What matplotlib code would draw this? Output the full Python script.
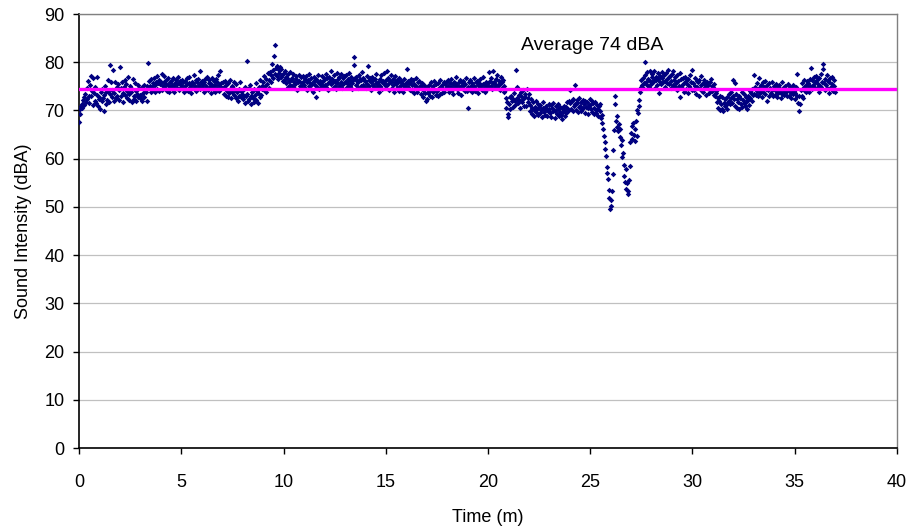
import numpy as np
import matplotlib
matplotlib.use("Agg")
import matplotlib.pyplot as plt

plt.rcParams['font.family'] = ['Liberation Sans', 'DejaVu Sans']

# Sound level meter log: one reading every 2 seconds, grouped by minute (dBA)
sample_interval_min = 2 / 60

minute_00 = [67.6, 69.2, 70.3, 70.9, 71.4, 70.6, 72.1, 71.2, 72.8, 73.5, 71.8, 74.6, 72.4, 76.2, 73.1,
             71.5, 75.3, 77.1, 72.9, 74.0, 71.2, 76.8, 73.6, 72.0, 74.9, 71.6, 77.0, 73.3, 70.9, 72.7]
minute_01 = [72.3, 70.4, 73.8, 71.9, 74.5, 72.6, 69.8, 73.2, 75.1, 71.3, 73.9, 72.2, 76.4, 74.0, 71.7,
             79.4, 73.5, 75.8, 72.8, 74.3, 78.3, 71.9, 73.6, 76.0, 72.5, 74.8, 73.0, 75.5, 72.1, 74.2]
minute_02 = [79.1, 74.6, 72.9, 75.8, 73.7, 71.8, 74.9, 76.3, 73.2, 75.4, 72.6, 74.1, 76.9, 73.5, 72.2,
             75.0, 73.8, 71.7, 74.4, 76.5, 73.0, 72.4, 75.6, 74.0, 71.9, 73.4, 75.2, 72.8, 74.7, 73.3]
minute_03 = [73.1, 72.4, 74.8, 72.0, 73.6, 75.2, 72.7, 74.3, 73.9, 71.9, 75.1, 79.8, 74.6, 76.2, 75.0,
             73.8, 76.5, 74.9, 75.7, 74.2, 76.8, 75.3, 73.9, 75.9, 77.1, 74.5, 75.6, 76.3, 74.1, 75.4]
minute_04 = [75.8, 74.3, 77.6, 75.1, 76.0, 77.2, 74.6, 75.5, 76.4, 74.0, 75.2, 76.7, 73.8, 75.9, 74.8,
             76.1, 75.3, 74.4, 76.8, 75.0, 73.9, 75.7, 76.3, 74.7, 75.4, 77.0, 74.2, 75.6, 76.2, 74.9]
minute_05 = [75.2, 76.4, 74.5, 75.9, 73.9, 76.2, 75.0, 74.3, 76.8, 75.5, 74.1, 75.7, 76.9, 74.8, 75.3,
             73.7, 76.0, 75.6, 74.6, 77.3, 75.1, 74.0, 76.3, 75.8, 74.7, 76.5, 75.2, 78.1, 74.4, 75.9]
minute_06 = [74.8, 76.1, 75.4, 73.8, 75.9, 76.6, 74.5, 75.1, 77.0, 74.2, 75.7, 76.3, 74.9, 73.6, 75.5,
             76.8, 75.0, 74.4, 76.2, 75.3, 73.9, 76.5, 75.8, 74.6, 77.4, 75.2, 74.1, 78.2, 75.6, 74.7]
minute_07 = [74.6, 75.9, 73.5, 74.9, 76.2, 73.0, 75.3, 74.1, 72.8, 75.6, 73.7, 76.4, 74.4, 72.5, 75.0,
             73.9, 74.7, 76.0, 73.2, 74.3, 72.6, 75.4, 73.8, 71.9, 74.5, 73.1, 75.8, 72.7, 74.0, 73.4]
minute_08 = [72.4, 74.2, 73.1, 71.6, 74.8, 72.9, 80.2, 73.5, 71.9, 74.6, 72.3, 75.2, 73.0, 71.4, 73.8,
             72.6, 74.4, 71.8, 73.3, 75.6, 72.1, 74.0, 73.6, 71.5, 74.9, 72.8, 76.3, 73.2, 74.5, 75.1]
minute_09 = [75.8, 74.3, 77.2, 75.0, 76.6, 73.9, 75.5, 77.8, 74.7, 76.4, 78.0, 75.9, 77.3, 79.6, 76.8,
             78.4, 81.2, 77.5, 83.6, 78.9, 77.1, 79.2, 76.5, 78.3, 77.7, 79.0, 76.9, 78.6, 77.4, 76.2]
minute_10 = [77.8, 76.3, 78.1, 75.6, 77.0, 76.7, 74.9, 77.5, 76.1, 75.2, 77.9, 76.4, 75.0, 76.8, 77.6,
             74.6, 76.0, 75.5, 77.2, 76.5, 74.3, 75.8, 77.4, 76.2, 75.1, 76.9, 74.8, 75.7, 77.1, 76.0]
minute_11 = [75.3, 76.6, 74.7, 77.2, 75.9, 74.2, 76.3, 75.0, 77.6, 75.7, 74.5, 76.8, 75.4, 73.9, 76.1,
             77.0, 75.2, 72.7, 76.5, 74.9, 75.8, 77.4, 74.4, 76.2, 75.5, 74.8, 77.1, 76.0, 75.1, 76.7]
minute_12 = [76.4, 75.2, 77.5, 74.9, 76.8, 75.6, 74.3, 77.0, 76.1, 75.4, 78.1, 76.6, 74.7, 75.9, 77.3,
             75.0, 76.2, 74.5, 77.8, 75.7, 76.5, 74.8, 76.9, 75.3, 77.6, 76.0, 74.6, 76.7, 75.5, 77.2]
minute_13 = [75.8, 77.3, 76.0, 74.9, 76.6, 75.4, 77.7, 76.2, 75.1, 76.9, 75.6, 74.4, 76.3, 81.1, 79.5,
             76.8, 75.3, 77.0, 76.1, 74.7, 75.9, 77.4, 76.5, 75.0, 76.4, 78.0, 75.2, 76.7, 74.8, 76.2]
minute_14 = [76.1, 74.6, 77.2, 75.5, 79.3, 76.4, 75.0, 76.8, 74.3, 75.9, 77.0, 75.2, 76.3, 74.8, 76.6,
             75.7, 77.5, 74.9, 76.0, 75.4, 73.8, 76.5, 75.1, 77.3, 75.8, 74.5, 76.2, 75.6, 77.8, 75.3]
minute_15 = [76.4, 75.0, 78.2, 76.7, 75.5, 74.2, 76.1, 77.3, 75.8, 74.7, 76.5, 75.2, 73.9, 76.0, 77.1,
             75.4, 74.6, 76.3, 75.9, 74.1, 76.8, 75.1, 74.5, 76.2, 75.6, 73.8, 75.3, 76.6, 74.9, 75.7]
minute_16 = [75.4, 78.6, 74.8, 76.1, 75.7, 74.3, 75.9, 76.6, 74.0, 75.2, 76.4, 73.7, 75.5, 74.6, 76.8,
             75.0, 73.9, 75.8, 74.4, 76.2, 75.1, 73.4, 74.9, 75.6, 72.8, 74.2, 75.3, 73.6, 74.7, 71.9]
minute_17 = [72.4, 74.8, 73.6, 75.3, 74.1, 73.0, 75.9, 74.5, 72.7, 75.0, 73.8, 76.2, 74.3, 73.3, 75.5,
             74.0, 72.9, 75.7, 74.6, 73.5, 76.4, 74.9, 73.7, 75.2, 74.4, 76.0, 73.9, 75.4, 74.7, 75.8]
minute_18 = [74.6, 76.3, 75.1, 73.8, 75.7, 74.9, 76.6, 74.2, 75.4, 73.5, 76.0, 74.8, 75.6, 77.0, 74.4,
             75.2, 73.7, 75.9, 74.7, 76.4, 75.0, 73.3, 75.8, 74.5, 76.1, 75.3, 74.0, 75.5, 76.8, 74.1]
minute_19 = [70.6, 74.9, 75.8, 74.2, 76.3, 75.1, 73.9, 75.6, 74.6, 76.7, 75.0, 74.0, 75.9, 74.5, 76.1,
             75.3, 73.6, 75.7, 74.8, 76.5, 75.2, 74.3, 75.5, 76.9, 74.7, 75.4, 73.8, 76.0, 75.1, 74.4]
minute_20 = [75.6, 77.9, 74.8, 76.2, 75.1, 76.8, 74.5, 75.7, 78.1, 76.0, 74.9, 75.4, 76.5, 77.3, 75.2,
             74.6, 76.1, 75.5, 74.2, 77.0, 75.8, 74.7, 76.3, 75.0, 73.9, 74.3, 72.5, 70.6, 71.8, 68.7]
minute_21 = [69.2, 71.4, 72.8, 70.3, 73.1, 71.9, 72.4, 70.8, 73.6, 72.0, 71.2, 78.3, 74.9, 72.6, 71.5,
             73.3, 72.1, 70.6, 73.8, 72.9, 71.7, 74.2, 72.3, 71.0, 73.4, 72.7, 70.9, 74.5, 71.8, 72.5]
minute_22 = [73.5, 71.2, 69.8, 72.4, 70.5, 69.2, 71.7, 70.1, 68.9, 70.8, 72.0, 69.6, 70.3, 71.4, 69.0,
             70.7, 69.4, 71.1, 70.0, 68.7, 70.6, 71.8, 69.7, 70.2, 69.1, 71.0, 70.4, 68.8, 69.9, 71.3]
minute_23 = [70.2, 69.5, 71.1, 68.7, 70.6, 69.9, 71.6, 70.0, 68.5, 69.8, 70.9, 69.3, 71.4, 70.3, 68.9,
             69.7, 70.8, 69.1, 70.5, 68.3, 69.6, 71.0, 70.1, 68.8, 69.4, 70.7, 71.7, 69.9, 70.4, 72.0]
minute_24 = [71.6, 74.3, 70.2, 71.9, 69.8, 72.4, 70.9, 75.3, 71.3, 70.0, 72.1, 71.5, 69.6, 70.7, 72.6,
             71.0, 69.9, 71.8, 70.4, 72.2, 70.6, 71.4, 69.5, 72.0, 70.8, 71.7, 69.3, 70.5, 71.2, 72.3]
minute_25 = [71.1, 70.3, 72.0, 69.7, 71.5, 70.6, 69.2, 71.8, 70.1, 69.5, 71.2, 70.4, 68.8, 70.9, 69.9,
             71.3, 68.5, 67.4, 69.0, 66.2, 64.8, 63.4, 62.1, 60.5, 58.3, 57.0, 55.8, 53.6, 51.9, 49.6]
minute_26 = [50.2, 51.5, 53.4, 56.8, 61.7, 65.9, 73.0, 71.4, 67.8, 66.5, 68.9, 65.7, 67.2, 64.6, 66.1,
             62.9, 63.8, 60.4, 61.2, 58.7, 56.5, 55.2, 57.9, 53.8, 54.9, 52.7, 53.3, 55.6, 58.4, 63.5]
minute_27 = [65.4, 64.1, 66.8, 67.5, 65.0, 63.6, 66.2, 67.9, 64.7, 70.1, 69.4, 72.2, 71.0, 73.8, 74.9,
             76.3, 75.2, 74.6, 76.8, 75.7, 80.0, 77.4, 76.0, 75.3, 77.9, 76.6, 74.8, 76.2, 78.1, 75.5]
minute_28 = [76.9, 77.5, 75.8, 76.3, 78.2, 74.7, 77.0, 76.4, 75.2, 77.8, 76.6, 73.7, 77.2, 76.0, 75.5,
             78.0, 76.8, 75.9, 77.4, 76.2, 74.9, 77.7, 76.5, 75.7, 78.3, 76.9, 75.4, 77.1, 76.1, 74.6]
minute_29 = [77.6, 75.3, 78.2, 76.4, 74.8, 76.9, 75.6, 77.3, 74.2, 76.1, 75.0, 77.8, 72.7, 76.5, 75.2,
             74.6, 76.8, 73.9, 75.7, 77.0, 74.4, 76.2, 75.4, 73.6, 76.6, 75.1, 74.7, 77.4, 75.8, 74.3]
minute_30 = [78.4, 75.6, 74.2, 76.7, 75.0, 73.5, 76.1, 74.8, 75.9, 73.1, 76.4, 74.5, 75.3, 77.1, 74.0,
             75.7, 73.8, 76.3, 74.9, 75.4, 73.3, 76.0, 74.6, 75.2, 73.7, 75.8, 74.3, 76.5, 75.1, 74.1]
minute_31 = [74.8, 73.2, 75.5, 72.9, 74.1, 73.6, 71.8, 72.5, 70.6, 71.9, 73.0, 70.1, 71.4, 72.7, 70.4,
             69.8, 71.6, 72.3, 70.9, 71.1, 72.8, 70.3, 71.7, 73.4, 72.0, 71.3, 72.6, 73.9, 71.5, 72.9]
minute_32 = [76.4, 72.3, 75.7, 71.0, 73.5, 72.4, 70.5, 71.8, 73.1, 70.2, 72.6, 71.3, 73.8, 70.7, 72.1,
             71.5, 73.4, 70.9, 72.8, 71.7, 70.4, 73.0, 72.2, 71.1, 74.0, 72.5, 73.6, 71.9, 74.4, 73.2]
minute_33 = [73.5, 77.4, 74.8, 73.2, 75.6, 74.1, 72.9, 76.8, 74.6, 73.7, 75.2, 74.0, 72.7, 75.9, 73.8,
             74.9, 76.2, 73.4, 74.5, 71.9, 75.3, 74.3, 73.1, 75.7, 74.7, 73.6, 76.0, 74.2, 73.0, 75.1]
minute_34 = [74.6, 73.3, 75.5, 74.0, 72.8, 74.9, 73.6, 75.2, 73.9, 74.4, 72.6, 75.8, 73.5, 74.7, 74.1,
             73.2, 75.0, 73.8, 74.3, 72.9, 75.4, 74.2, 73.1, 74.8, 73.7, 72.5, 74.5, 73.4, 75.3, 74.0]
minute_35 = [73.6, 72.4, 74.8, 73.1, 77.5, 71.6, 69.9, 72.9, 71.3, 74.2, 73.0, 75.6, 72.5, 74.9, 76.3,
             74.0, 75.2, 73.8, 76.1, 74.6, 75.7, 73.9, 76.6, 75.0, 78.8, 74.5, 76.4, 75.3, 77.0, 74.8]
minute_36 = [75.9, 77.2, 74.6, 76.3, 75.4, 73.8, 76.8, 75.1, 77.6, 74.9, 76.0, 79.7, 78.5, 75.6, 74.3,
             76.5, 75.2, 77.3, 74.7, 76.1, 75.8, 73.6, 76.7, 74.8, 75.5, 77.0, 74.1, 76.4, 75.0, 73.9]

readings = [minute_00, minute_01, minute_02, minute_03, minute_04, minute_05, minute_06, minute_07,
            minute_08, minute_09, minute_10, minute_11, minute_12, minute_13, minute_14, minute_15,
            minute_16, minute_17, minute_18, minute_19, minute_20, minute_21, minute_22, minute_23,
            minute_24, minute_25, minute_26, minute_27, minute_28, minute_29, minute_30, minute_31,
            minute_32, minute_33, minute_34, minute_35, minute_36]

level_dba = np.concatenate([np.asarray(m, dtype=float) for m in readings])
time_min = np.arange(level_dba.size) * sample_interval_min

average_dba = 74.4

x_ticks = [0, 5, 10, 15, 20, 25, 30, 35, 40]
y_ticks = [0, 10, 20, 30, 40, 50, 60, 70, 80, 90]

fig = plt.figure(figsize=(9.19, 5.29), dpi=100)
ax = fig.add_axes([0.086, 0.1531, 0.890, 0.8204])

ax.scatter(time_min, level_dba, marker='D', s=8, color='#000080', linewidths=0, zorder=3)
ax.axhline(average_dba, color='#ff00ff', lw=2.4, zorder=4)
ax.text(21.6, 83.4, f"Average {average_dba:.0f} dBA", fontsize=14, color='black',
        va='center', ha='left', zorder=5)

ax.set_xlim(0, 40)
ax.set_ylim(0, 90)
ax.set_xticks(x_ticks)
ax.set_yticks(y_ticks)
ax.tick_params(axis='both', labelsize=13, direction='out', length=4.5, width=1.0, color='black')
ax.tick_params(axis='x', pad=14)
ax.tick_params(axis='y', pad=6)

ax.grid(axis='y', color='#c0c0c0', lw=0.9, zorder=0)
ax.set_axisbelow(True)

for side in ('left', 'bottom'):
    ax.spines[side].set_color('#000000')
    ax.spines[side].set_linewidth(1.2)
for side in ('top', 'right'):
    ax.spines[side].set_color('#808080')
    ax.spines[side].set_linewidth(1.0)

ax.set_xlabel('Time (m)', fontsize=13, labelpad=13)
ax.set_ylabel('Sound Intensity (dBA)', fontsize=13, labelpad=9)

fig.savefig('out.png', dpi=100)
